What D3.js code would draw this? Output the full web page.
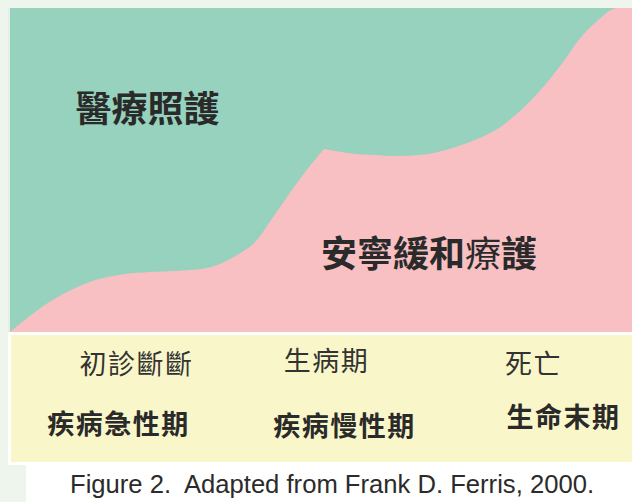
<!DOCTYPE html>
<html><head><meta charset="utf-8">
<script src="https://cdn.jsdelivr.net/npm/d3@7/dist/d3.min.js"></script>
<style>
html,body{margin:0;padding:0;background:#ffffff;}
svg{display:block;}
</style></head>
<body>
<script>
// ---- data (time 0-100 along the illness trajectory, share of palliative care in %) ----
const timeRise  = [0, 3.2, 6.4, 10.5, 14.5, 18.5, 22.5, 30.5, 33.3, 35.9, 39.7, 42.3, 45.0, 47.7, 50.5];
const shareRise = [0, 4.9, 9.3, 13.6, 16.4, 17.9, 18.5, 19.4, 20.7, 23.1, 28.4, 35.5, 42.9, 50.0, 56.5];
const timeLate  = [50.5, 54.5, 58.7, 62.1, 65.9, 70.6, 74.8, 78.6, 84.1, 89.4, 91.3, 94.4, 97.7, 100];
const shareLate = [56.5, 55.2, 54.6, 54.3, 54.6, 56.5, 59.3, 63.0, 72.2, 84.6, 89.8, 96.0, 100, 100];
const careLabels  = ["醫療照護", "安寧緩和療護"];
const eventLabels = ["初診斷斷", "生病期", "死亡"];
const phaseLabels = ["疾病急性期", "疾病慢性期", "生命末期"];
const caption = "Figure 2.  Adapted from Frank D. Ferris, 2000.";

const W = 632, H = 502;
const svg = d3.select("body").append("svg").attr("width", W).attr("height", H);

// page background pieces
svg.append("rect").attr("x",0).attr("y",0).attr("width",W).attr("height",H).attr("fill","#ffffff");
svg.append("rect").attr("x",0).attr("y",0).attr("width",W).attr("height",8).attr("fill","#edf5ec");
svg.append("rect").attr("x",0).attr("y",0).attr("width",8).attr("height",H).attr("fill","#edf5ec");
svg.append("rect").attr("x",0).attr("y",465).attr("width",26).attr("height",H-465).attr("fill","#edf5ec");
svg.append("rect").attr("x",8).attr("y",8).attr("width",2).attr("height",324).attr("fill","#e6efe5");

const x = d3.scaleLinear().domain([0,100]).range([10,632]);
const y = d3.scaleLinear().domain([0,100]).range([332,8]);

// medical care (green) background of plot
svg.append("rect").attr("x",x(0)).attr("y",y(100)).attr("width",x(100)-x(0)).attr("height",y(0)-y(100)).attr("fill","#96d2bd");

// palliative care (pink) area: two smooth pieces joined at the corner, drawn as one path
const area = d3.area().x(d=>x(d.t)).y0(y(0)).y1(d=>y(d.s)).curve(d3.curveMonotoneX);
const seg1 = timeRise.map((t,i)=>({t, s: shareRise[i]}));
const seg2 = timeLate.map((t,i)=>({t, s: shareLate[i]}));
svg.append("path").attr("d", area(seg1) + area(seg2)).attr("fill","#f8c0c3");

// yellow band with white frame
svg.append("rect").attr("x",8).attr("y",332).attr("width",W-8).attr("height",133).attr("fill","#ffffff");
svg.append("rect").attr("x",11).attr("y",335).attr("width",W-11).attr("height",127).attr("fill","#f9f7c9");

const cjk = "'Noto Sans CJK TC','Noto Sans CJK SC',sans-serif";
const ink = "#2a2a2a";

// care labels
svg.append("text").attr("x",147.5).attr("y",121.5).attr("text-anchor","middle")
  .attr("font-family",cjk).attr("font-size",36).attr("font-weight","bold").attr("fill",ink)
  .text(careLabels[0]);
const t2 = svg.append("text").attr("x",429).attr("y",267).attr("text-anchor","middle")
  .attr("font-family",cjk).attr("font-size",36).attr("fill",ink);
const lbl = careLabels[1];
t2.append("tspan").attr("font-weight","bold").text(lbl.slice(0,4));
t2.append("tspan").attr("font-weight","normal").text(lbl.slice(4,5));
t2.append("tspan").attr("font-weight","bold").text(lbl.slice(5));

// event labels (regular) and phase labels (bold)
const eventPos = [[136.5,373.5],[326.5,371],[533.5,373.5]];
const phasePos = [[118.5,433.5],[344.5,436],[563.5,426.5]];
svg.selectAll("text.ev").data(eventLabels).enter().append("text").attr("class","ev")
  .attr("x",(d,i)=>eventPos[i][0]).attr("y",(d,i)=>eventPos[i][1]).attr("text-anchor","middle")
  .attr("font-family",cjk).attr("font-size",27).attr("letter-spacing",1.5).attr("fill","#333")
  .text(d=>d);
svg.selectAll("text.ph").data(phaseLabels).enter().append("text").attr("class","ph")
  .attr("x",(d,i)=>phasePos[i][0]).attr("y",(d,i)=>phasePos[i][1]).attr("text-anchor","middle")
  .attr("font-family",cjk).attr("font-size",27).attr("font-weight","bold").attr("letter-spacing",1.5).attr("fill",ink)
  .text(d=>d);

// caption
svg.append("text").attr("x",70).attr("y",493)
  .attr("font-family","'Liberation Sans',Arial,sans-serif").attr("font-size",26)
  .attr("fill","#2b2b2b").attr("textLength",524).attr("lengthAdjust","spacingAndGlyphs")
  .style("white-space","pre").text(caption);
</script>
</body></html>
